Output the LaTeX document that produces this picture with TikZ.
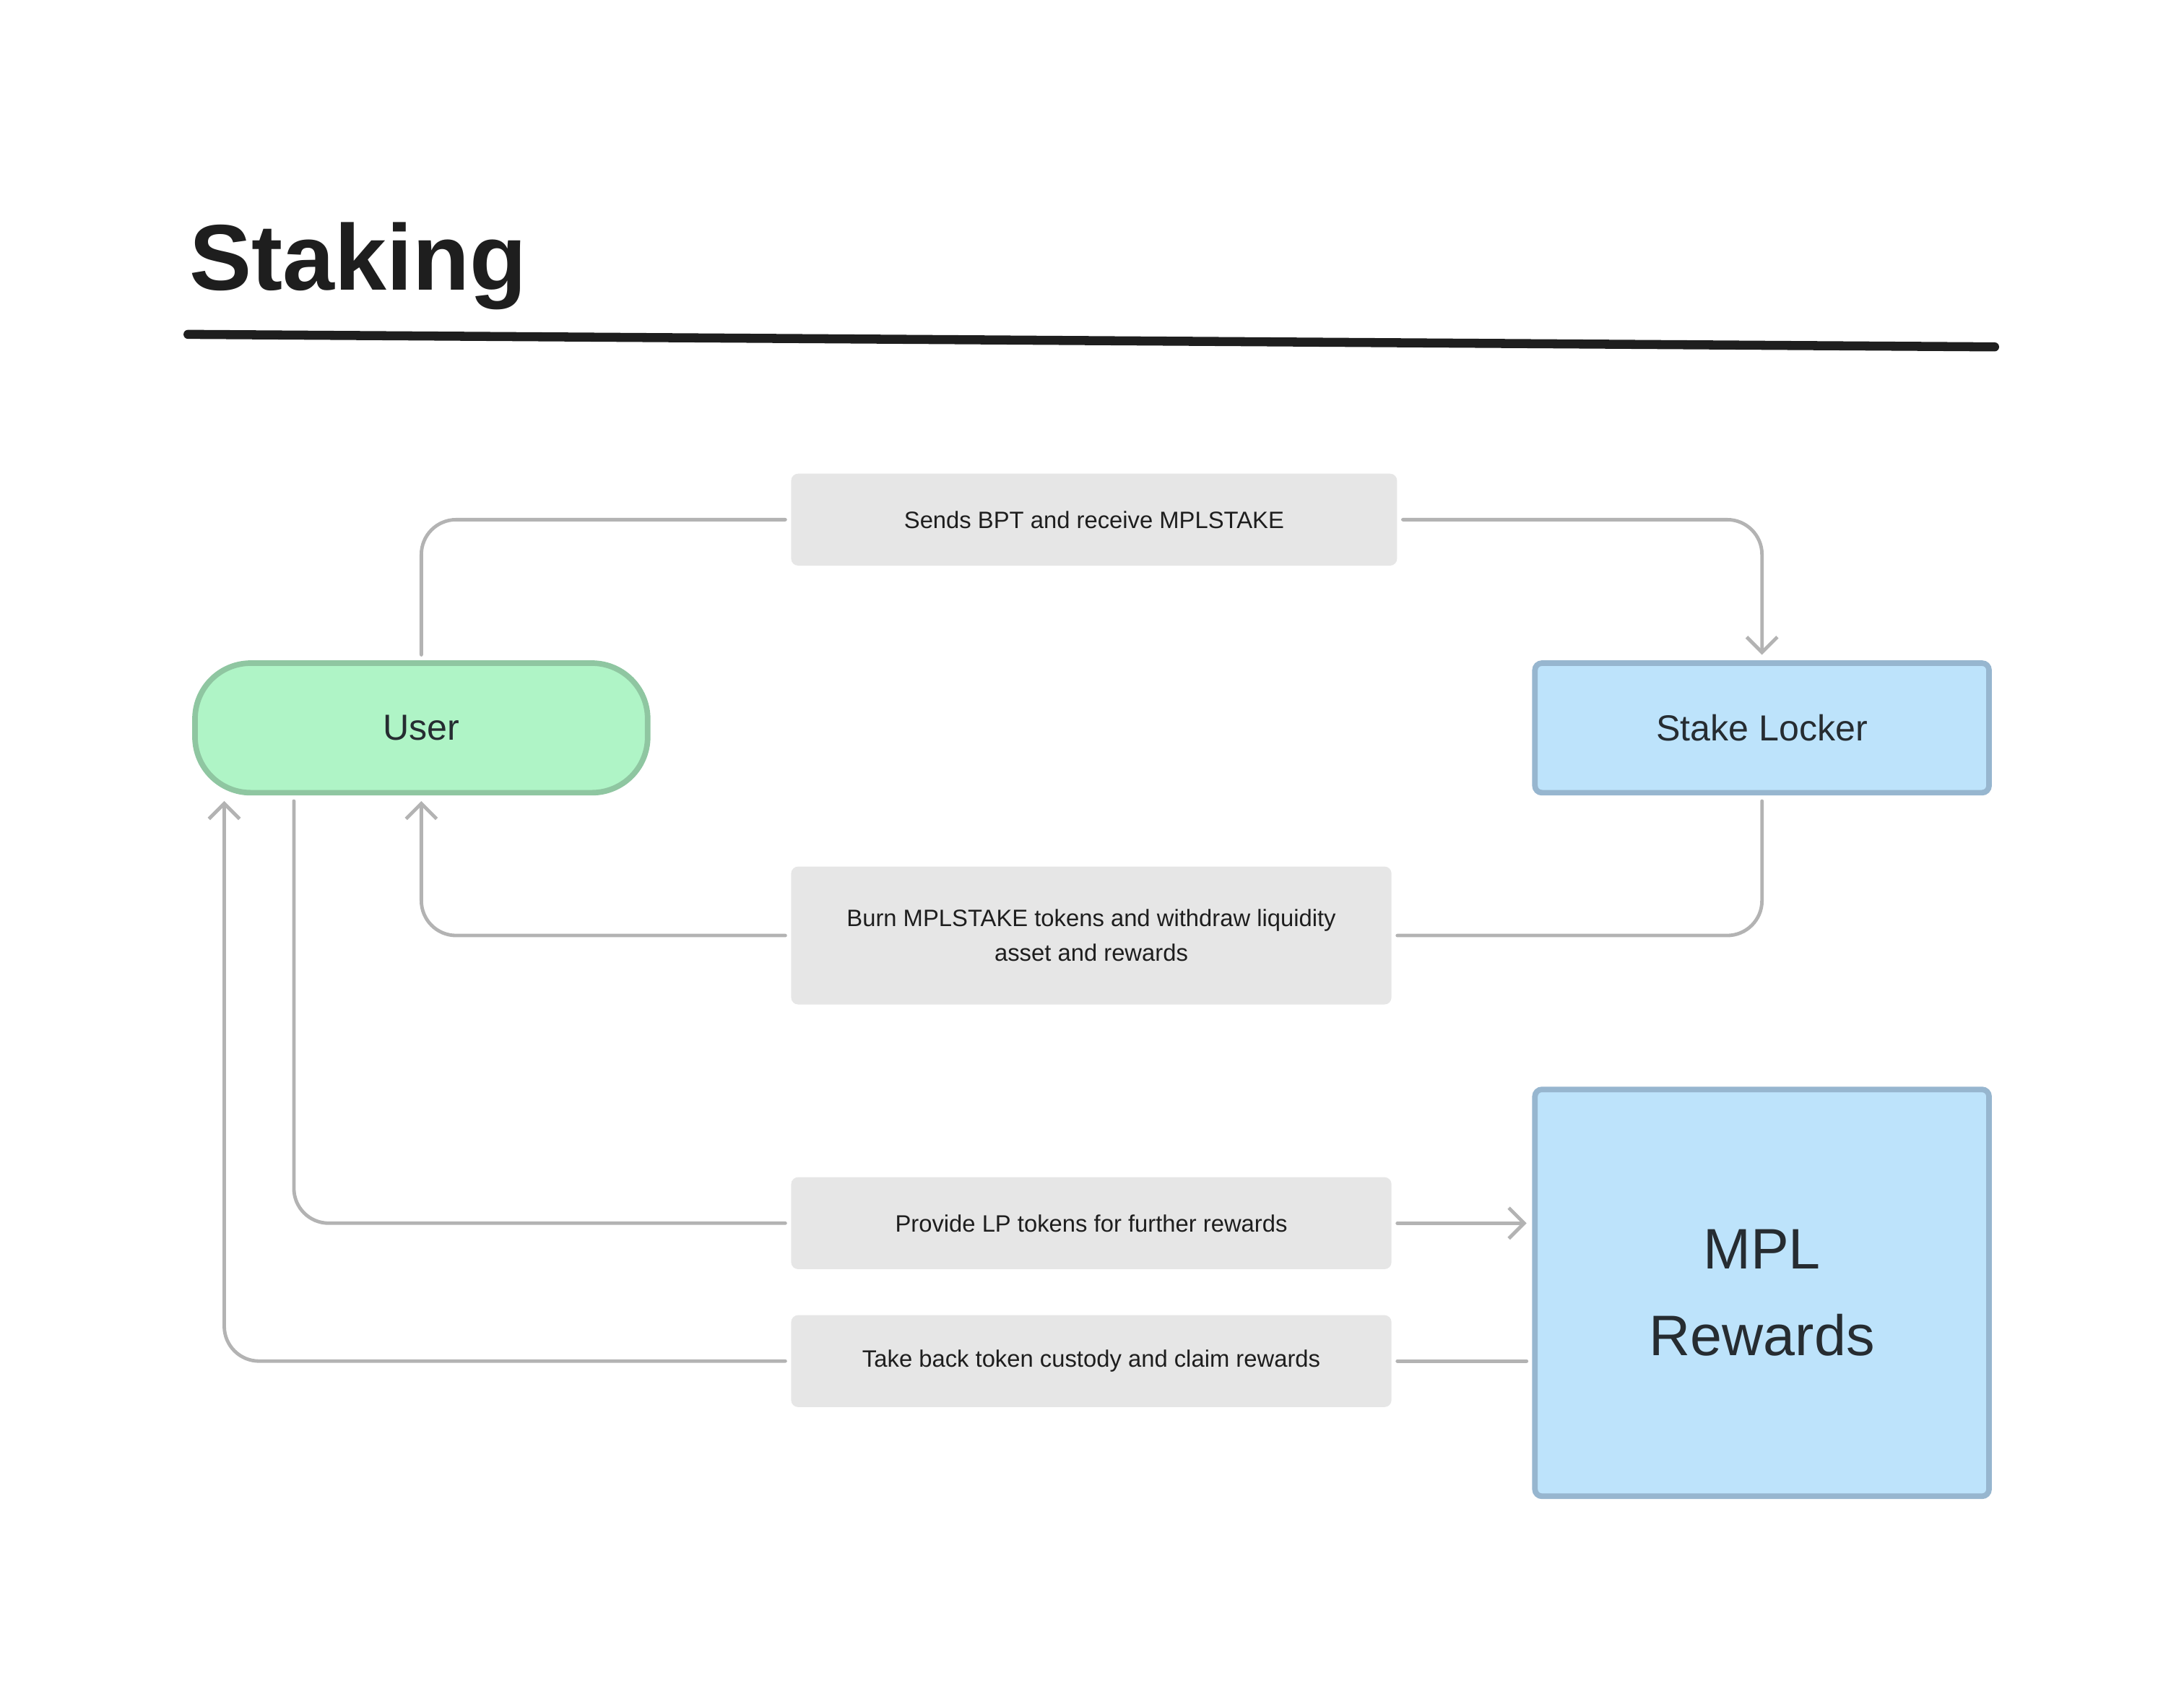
\documentclass[tikz,border=0pt]{standalone}
\usepackage{fontspec}
\setmainfont{Liberation Sans}
\usepackage{tikz}
\usetikzlibrary{arrows.meta}
\usepackage{xcolor}

\definecolor{inkdark}{HTML}{1E1E1E}
\definecolor{boxtext}{HTML}{262C31}
\definecolor{linegray}{HTML}{B3B3B3}
\definecolor{labelgray}{HTML}{E6E6E6}
\definecolor{userfill}{HTML}{AFF4C6}
\definecolor{userdraw}{HTML}{8FC6A1}
\definecolor{lockfill}{HTML}{BDE3FB}
\definecolor{lockdraw}{HTML}{97B6CF}

\tikzset{
  flow/.style={draw=linegray, line width=2.5pt, rounded corners=25pt,
    line cap=round, line join=round, shorten <=4pt, shorten >=4pt},
  tip/.style={-{Straight Barb[length=11pt,width=22pt]}},
  actlabel/.style={fill=labelgray, rounded corners=5pt, inner sep=0pt,
    text=inkdark, align=center, font=\fontsize{17}{25}\selectfont},
  party/.style={line width=4pt, inner sep=0pt, text=boxtext,
    font=\fontsize{26}{30}\selectfont}
}

\begin{document}
\begin{tikzpicture}[x=1pt, y=-1pt]
  \useasboundingbox (0,0) rectangle (1568,1210);

  % Title
  \node[anchor=base west, inner sep=0pt, text=inkdark,
    font=\bfseries\fontsize{67}{70}\selectfont] (title) at (136,208) {Staking};
  \coordinate (ruleL) at (135,240);
  \coordinate (ruleR) at (1432,249);
  \draw[inkdark, line width=6.5pt, line cap=round] (ruleL) -- (ruleR);

  % Parties
  \node[party, draw=userdraw, fill=userfill, rounded corners=40pt,
    minimum width=325pt, minimum height=93pt] (user) at (302.5,522.5) {User};
  \node[party, draw=lockdraw, fill=lockfill, rounded corners=5pt,
    minimum width=326pt, minimum height=93pt] (locker) at (1265,522.5) {Stake Locker};
  \node[party, draw=lockdraw, fill=lockfill, rounded corners=5pt,
    minimum width=326pt, minimum height=292pt, align=center,
    font=\fontsize{41}{62}\selectfont] (mpl) at (1265,928) {MPL\\Rewards};

  % Actions
  \node[actlabel, minimum width=435pt, minimum height=66pt] (send) at (785.5,373)
    {Sends BPT and receive MPLSTAKE};
  \node[actlabel, minimum width=431pt, minimum height=99pt] (burn) at (783.5,671.5)
    {Burn MPLSTAKE tokens and withdraw liquidity\\asset and rewards};
  \node[actlabel, minimum width=431pt, minimum height=66pt] (provide) at (783.5,878)
    {Provide LP tokens for further rewards};
  \node[actlabel, minimum width=431pt, minimum height=66pt] (takeback) at (783.5,977)
    {Take back token custody and claim rewards};

  % Connectors
  \draw[flow] (user.north) |- (send.west);
  \draw[flow, tip] (send.east) -| (locker.north);

  \draw[flow] (locker.south) |- (burn.east);
  \draw[flow, tip] (burn.west) -| (user.south);

  \draw[flow] ([xshift=73pt]user.south west) |- (provide.west);
  \draw[flow, tip] (provide.east) -- (provide.east -| mpl.west);

  \draw[flow] (takeback.east -| mpl.west) -- (takeback.east);
  \draw[flow, tip] (takeback.west) -| ([xshift=23pt]user.south west);
\end{tikzpicture}
\end{document}
